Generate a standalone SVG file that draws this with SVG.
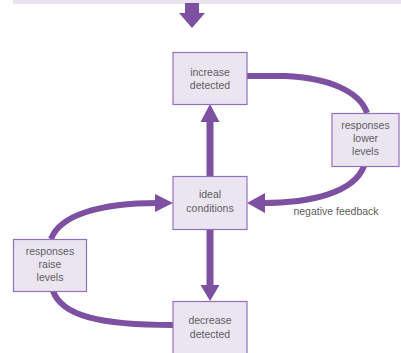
<svg xmlns="http://www.w3.org/2000/svg" width="401" height="353" viewBox="0 0 401 353">
<style>
.box{fill:#ebe5f2;stroke:#9370bd;stroke-width:1.2}
.t{font-family:"Liberation Sans",Arial,sans-serif;font-size:10.5px;fill:#5e5e5e;text-anchor:middle}
.line{fill:none;stroke:#7d50a2;stroke-width:6}
.head{fill:#7d50a2}
</style>
<rect x="13" y="-1" width="390" height="5" fill="#e9e3f0"/>
<g id="connectors">
<rect class="head" x="185" y="3" width="14" height="11"/>
<polygon class="head" points="179,13 205,13 192,28"/>
<rect class="head" x="206.5" y="121" width="7" height="56"/>
<polygon class="head" points="200.5,122 219.5,122 210,104"/>
<rect class="head" x="206.5" y="229" width="7" height="57"/>
<polygon class="head" points="200.5,285 219.5,285 210,301"/>
<path class="line" d="M247,76 L285,76 C330,78 360,92 367,113"/>
<path class="line" d="M364,166 C354,193 310,203 262,203"/>
<polygon class="head" points="247,203 265,193 265,213"/>
<path class="line" d="M158,203 C100,203 60,215 51,239"/>
<polygon class="head" points="173,203 155,194 155,212"/>
<path class="line" d="M53,291 C62,316 100,325 173,325"/>
</g>
<g id="increase">
<rect class="box" x="173" y="52.5" width="74" height="52"/>
<text class="t" x="210" y="76">increase</text>
<text class="t" x="210" y="89">detected</text>
</g>
<g id="ideal">
<rect class="box" x="173" y="176.5" width="74" height="53"/>
<text class="t" x="210" y="198">ideal</text>
<text class="t" x="210" y="212">conditions</text>
</g>
<g id="decrease">
<rect class="box" x="173" y="301.5" width="74" height="53"/>
<text class="t" x="210" y="324">decrease</text>
<text class="t" x="210" y="338">detected</text>
</g>
<g id="lower">
<rect class="box" x="332" y="113.5" width="67" height="53"/>
<text class="t" x="365.5" y="129">responses</text>
<text class="t" x="365.5" y="142">lower</text>
<text class="t" x="365.5" y="155">levels</text>
</g>
<g id="raise">
<rect class="box" x="13.5" y="239.5" width="73" height="52"/>
<text class="t" x="50" y="255">responses</text>
<text class="t" x="50" y="268">raise</text>
<text class="t" x="50" y="281">levels</text>
</g>
<text class="t" x="336" y="215">negative feedback</text>
</svg>
